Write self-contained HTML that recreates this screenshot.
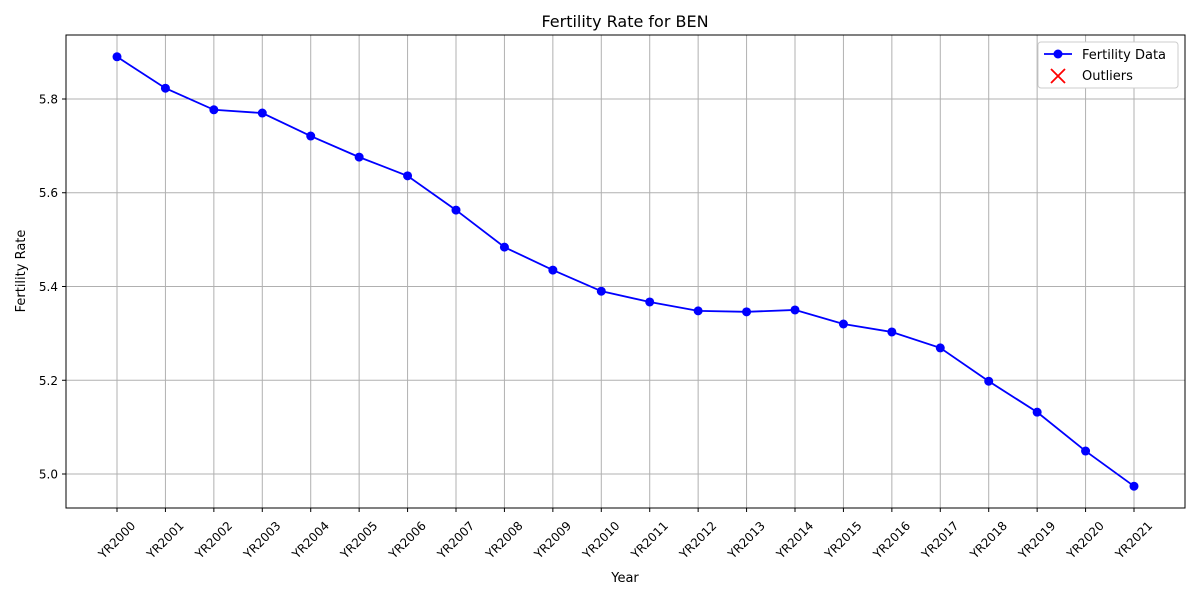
<!DOCTYPE html>
<html><head><meta charset="utf-8"><style>
body{margin:0;background:#fff;font-family:"Liberation Sans","DejaVu Sans",sans-serif;}
svg text{font-family:"DejaVu Sans","Liberation Sans",sans-serif;}
</style></head><body>
<svg id="chart" width="1200" height="600" xmlns="http://www.w3.org/2000/svg">
<rect width="1200" height="600" fill="#fff"/>
<text x="625" y="27" font-size="16" text-anchor="middle">Fertility Rate for BEN</text>
<g id="grid"></g>
<g id="xticks"></g>
<g id="yticks"></g>
<polyline id="line" fill="none" stroke="#0000ff" stroke-width="1.8"/>
<g id="points"></g>
<rect x="66" y="35" width="1119" height="473" fill="none" stroke="#000" stroke-width="1"/>
<text x="625" y="582" font-size="13" text-anchor="middle">Year</text>
<text transform="translate(25,271) rotate(-90)" font-size="13" text-anchor="middle">Fertility Rate</text>
<g>
<rect x="1038" y="42" width="140" height="46" fill="#fff" stroke="#ccc" rx="3"/>
<g>
<line x1="1044" y1="54" x2="1072" y2="54" stroke="#0000ff" stroke-width="1.8"/>
<circle cx="1058" cy="54" r="4.5" fill="#0000ff"/>
<text x="1082" y="59" font-size="13">Fertility Data</text></g>
<g>
<path d="M1051 69 L1065 83 M1065 69 L1051 83" stroke="#ff0000" stroke-width="1.8"/>
<text x="1082" y="80" font-size="13">Outliers</text></g>
</g>
</svg>
<script>
const years=["YR2000","YR2001","YR2002","YR2003","YR2004","YR2005","YR2006","YR2007","YR2008","YR2009","YR2010","YR2011","YR2012","YR2013","YR2014","YR2015","YR2016","YR2017","YR2018","YR2019","YR2020","YR2021"];
const rates=[5.890,5.823,5.777,5.770,5.721,5.676,5.636,5.563,5.484,5.435,5.390,5.367,5.348,5.346,5.350,5.320,5.303,5.269,5.198,5.132,5.049,4.974];
const yTicks=[5.0,5.2,5.4,5.6,5.8];
const NS="http://www.w3.org/2000/svg";
const L=66,R=1185,T=35,B=508,yMin=4.9275,yMax=5.9365;
function xs(i){return 117+i*(1134-117)/(years.length-1);}
function ys(v){return B-(v-yMin)/(yMax-yMin)*(B-T);}
function mk(t,a,p){const e=document.createElementNS(NS,t);for(const k in a)e.setAttribute(k,a[k]);p.appendChild(e);return e;}
const grid=document.getElementById('grid'),xt=document.getElementById('xticks'),yt=document.getElementById('yticks'),pts=document.getElementById('points');
years.forEach((y,i)=>{const x=xs(i);
const g=mk('line',{x1:x,x2:x,y1:T,y2:B,stroke:'#b0b0b0','stroke-width':1},grid);


mk('line',{x1:x,x2:x,y1:B,y2:B+4,stroke:'#000'},xt);
const cy=B+32;
const t=mk('text',{x:x,y:cy+4,'font-size':12,'text-anchor':'middle',transform:`rotate(-45 ${x} ${cy})`},xt);
t.textContent=y;


});
yTicks.forEach(v=>{const y=ys(v);
const g=mk('line',{x1:L,x2:R,y1:y,y2:y,stroke:'#b0b0b0','stroke-width':1},grid);


mk('line',{x1:L-4,x2:L,y1:y,y2:y,stroke:'#000'},yt);
const t=mk('text',{x:L-8,y:y+4.5,'font-size':12,'text-anchor':'end'},yt);
t.textContent=v.toFixed(1);


});
document.getElementById('line').setAttribute('points',rates.map((v,i)=>xs(i)+','+ys(v)).join(' '));
rates.forEach((v,i)=>{const c=mk('circle',{cx:xs(i),cy:ys(v),r:4.5,fill:'#0000ff'},pts);


});
</script>
</body></html>
